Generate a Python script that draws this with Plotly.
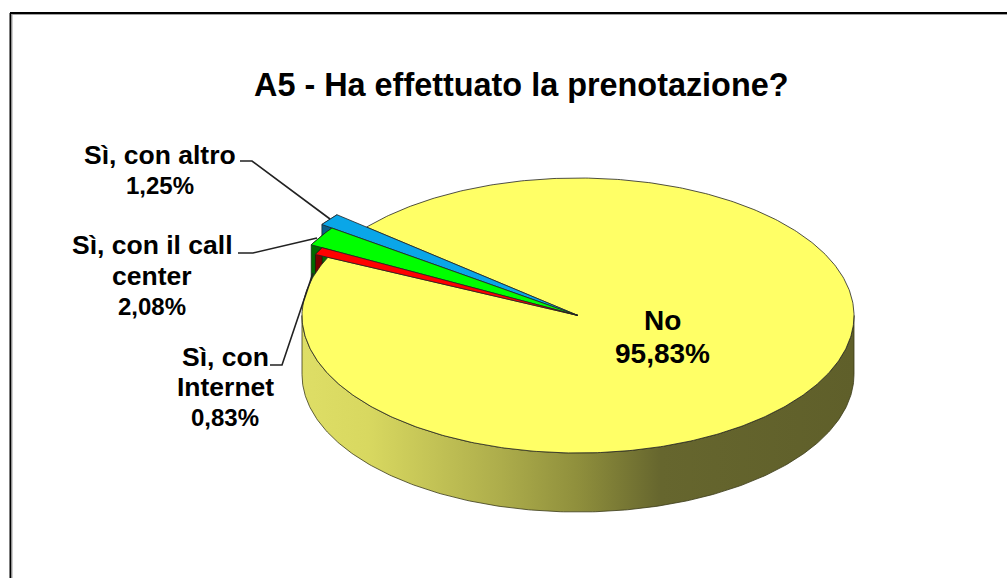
import numpy as np
import plotly.graph_objects as go

# Data
labels = ["No", "Sì, con Internet", "Sì, con il call center", "Sì, con altro"]
values = [95.83, 0.83, 2.08, 1.25]
value_labels = ["95,83%", "0,83%", "2,08%", "1,25%"]
title_text = "A5 - Ha effettuato la prenotazione?"

# Style / geometry (pixel scale of the axes)
W, H = 1007, 578
CX, CY, RX, RY, DEPTH = 578, 315.5, 276, 137.5, 59
START = 310.0
radius = [1.0, 1.05, 1.095, 1.14]
top_colors = ["#FFFF66", "#FF0000", "#00FF00", "#0AA6E8"]
side_colors = ["#A0A040", "#7A0000", "#006A00", "#0A5F88"]
FONT = "Liberation Sans"

total = sum(values)
bounds = [START]
for v in values:
    bounds.append(bounds[-1] + v / total * 360)


def rim(a0, a1, r, dy=0.0, n=None):
    n = n or max(8, int(abs(a1 - a0) * 1.5))
    t = np.radians(np.linspace(a0, a1, n))
    return CX + RX * r * np.sin(t), CY + dy - RY * r * np.cos(t)


fig = go.Figure()

# side of the large slice: visible front half of the rim
x0, y0 = rim(90, 270, 1.0)
x1, y1 = rim(270, 90, 1.0, DEPTH)
fig.add_trace(go.Scatter(
    x=np.r_[x0, x1, x0[0]], y=np.r_[y0, y1, y0[0]], mode="lines", fill="toself",
    line=dict(color="#3a3a18", width=0.8),
    fillgradient=dict(type="horizontal", colorscale=[
        [0, "#DEDE66"], [0.12, "#D8D860"], [0.36, "#ADAD4B"], [0.5, "#8F8F3C"],
        [0.65, "#66662E"], [1, "#5F5F2A"]]),
    hoverinfo="skip", showlegend=False))

# sides of the small slices
for i in (3, 2, 1):
    x0, y0 = rim(bounds[i], bounds[i + 1], radius[i])
    x1, y1 = rim(bounds[i + 1], bounds[i], radius[i], DEPTH)
    fig.add_trace(go.Scatter(
        x=np.r_[x0, x1, x0[0]], y=np.r_[y0, y1, y0[0]], mode="lines", fill="toself",
        line=dict(color="#111111", width=0.6), fillcolor=side_colors[i],
        hoverinfo="skip", showlegend=False))

# top faces
for i in (0, 3, 2, 1):
    xr, yr = rim(bounds[i], bounds[i + 1], radius[i])
    fig.add_trace(go.Scatter(
        x=np.r_[CX, xr, CX], y=np.r_[CY, yr, CY], mode="lines", fill="toself",
        line=dict(color="#222222", width=0.8), fillcolor=top_colors[i],
        name=labels[i], hoverinfo="name", showlegend=False))

# leader lines
leaders = [
    ([240, 252, 330], [161, 161, 219]),
    ([238, 253, 317], [253, 253, 238]),
    ([270, 282, 313], [365, 365, 273]),
]
for lx, ly in leaders:
    fig.add_trace(go.Scatter(x=lx, y=ly, mode="lines",
                             line=dict(color="#222222", width=1.6),
                             hoverinfo="skip", showlegend=False))


def note(x, y, text, size):
    fig.add_annotation(x=x, y=y, text=text, showarrow=False, xref="x", yref="y",
                       xanchor="center", yanchor="middle", align="center",
                       font=dict(family=FONT, size=size, color="#000000"))


B = "<b>{}</b>"
note(521, 85, B.format(title_text), 32.4)
for x, y, line, size in [
    (662, 320, labels[0], 28), (662, 353, value_labels[0], 28),
    (160, 155, "Sì, con altro", 26.5), (160, 185, value_labels[3], 24),
    (152, 245, "Sì, con il call", 26.5), (152, 276, "center", 26.5), (152, 306, value_labels[2], 24),
    (225, 357, "Sì, con", 26.5), (225, 387, "Internet", 26.5), (225, 417, value_labels[1], 24),
]:
    note(x, y, B.format(line), size)

# chart frame (clipped by the picture at right and bottom)
fig.add_shape(type="line", x0=10.5, x1=10.5, y0=13, y1=H, line=dict(color="#000000", width=2))
fig.add_shape(type="line", x0=10, x1=W, y0=13, y1=13, line=dict(color="#000000", width=2))
fig.add_shape(type="line", x0=12, x1=12, y0=14, y1=H, line=dict(color="#a0a0a0", width=1))
fig.add_shape(type="line", x0=12, x1=W, y0=14.5, y1=14.5, line=dict(color="#a0a0a0", width=1))

fig.update_layout(
    width=W, height=H, margin=dict(l=0, r=0, t=0, b=0),
    paper_bgcolor="#FFFFFF", plot_bgcolor="#FFFFFF", showlegend=False,
    xaxis=dict(range=[0, W], visible=False, fixedrange=True),
    yaxis=dict(range=[H, 0], visible=False, fixedrange=True),
)
fig.write_html("out.html", config={"displayModeBar": False},
               default_width=f"{W}px", default_height=f"{H}px",
               post_script="document.body.style.margin='0';document.body.style.overflow='hidden';")
